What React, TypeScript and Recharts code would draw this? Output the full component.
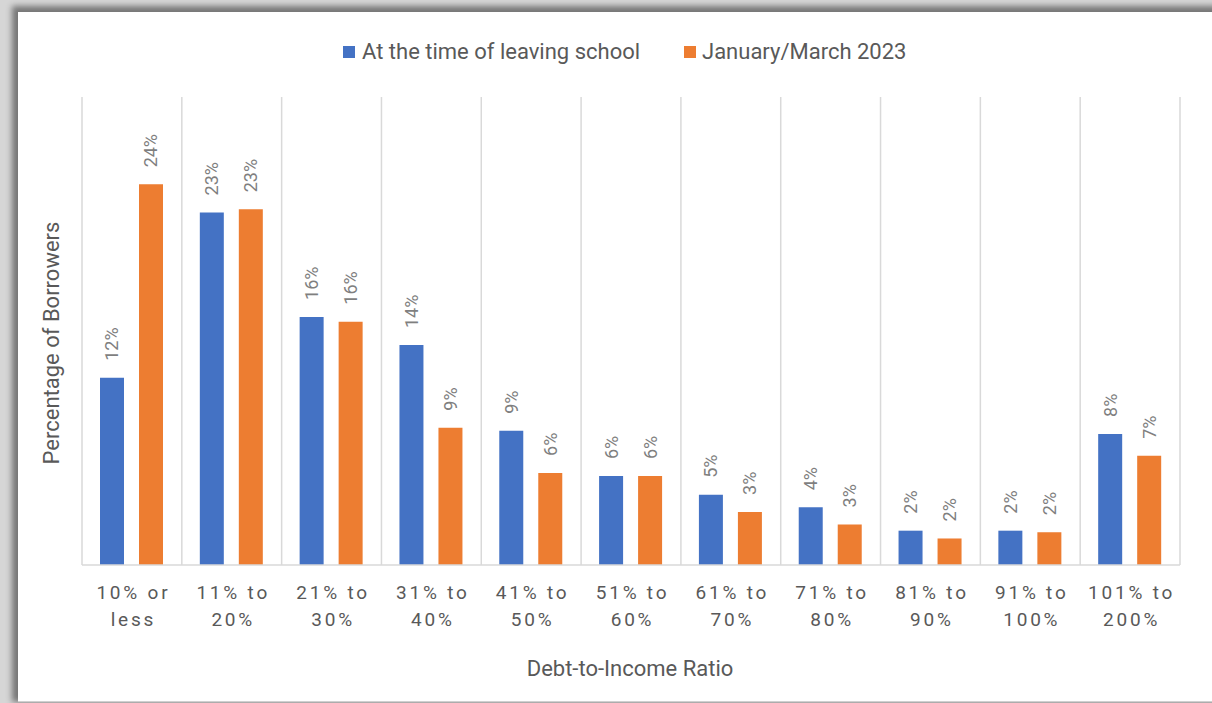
import { Bar, BarChart, CartesianGrid, LabelList, XAxis, YAxis } from "recharts";

const categories = [
  "10% or less",
  "11% to 20%",
  "21% to 30%",
  "31% to 40%",
  "41% to 50%",
  "51% to 60%",
  "61% to 70%",
  "71% to 80%",
  "81% to 90%",
  "91% to 100%",
  "101% to 200%",
];
const leavingSchool = [12.0, 22.6, 15.9, 14.1, 8.6, 5.7, 4.5, 3.7, 2.2, 2.2, 8.4];
const janMar2023 = [24.4, 22.8, 15.6, 8.8, 5.9, 5.7, 3.4, 2.6, 1.7, 2.1, 7.0];

const BLUE = "#4472C4";
const ORANGE = "#ED7D31";
const FONT = "Roboto, 'Noto Sans', sans-serif";

const data = categories.map((name, i) => ({
  name,
  school: leavingSchool[i],
  jan: janMar2023[i],
}));

// two-line category label, split at the last space
function CategoryTick({ x, y, payload }: any) {
  const s: string = payload.value;
  const cut = s.lastIndexOf(" ");
  const lines = [s.slice(0, cut), s.slice(cut + 1)];
  return (
    <g>
      {lines.map((l, i) => (
        <text
          key={i}
          x={x + 1.5}
          y={y + 34 + i * 27}
          textAnchor="middle"
          fontSize={19}
          letterSpacing={2.8}
          fill="#595959"
          fontFamily={FONT}
        >
          {l}
        </text>
      ))}
    </g>
  );
}

function ValueLabel({ x, y, width, value }: any) {
  const cx = x + width / 2;
  const ty = y - 17;
  return (
    <text
      x={cx}
      y={ty}
      transform={`rotate(-90, ${cx}, ${ty})`}
      textAnchor="start"
      dominantBaseline="central"
      fontSize={18}
      fill="#7f7f7f"
      fontFamily={FONT}
    >
      {Math.round(value)}%
    </text>
  );
}

export default function App() {
  return (
    <div
      style={{
        position: "absolute",
        left: 0,
        top: 0,
        width: 1212,
        height: 703,
        overflow: "hidden",
        background: "#d6d6d6",
        fontFamily: FONT,
      }}
    >
      <div
        style={{
          position: "absolute",
          left: 18,
          top: 12,
          width: 1230,
          height: 689,
          background: "#fff",
          boxShadow: "-3px -3px 6px 3px rgba(0,0,0,0.45)",
          borderBottom: "1px solid #d0d0d0",
        }}
      />
      <div style={{ position: "absolute", left: 0, top: 0 }}>
        <BarChart
          width={1212}
          height={703}
          data={data}
          margin={{ top: 97, right: 32, left: 82, bottom: 68 }}
          barGap={15}
          barSize={24}
        >
          <CartesianGrid
            horizontal={false}
            stroke="#d9d9d9"
            strokeWidth={1.5}
            verticalCoordinatesGenerator={({ offset }: any) =>
              categories
                .map((_, i) => offset.left + (i * offset.width) / categories.length)
                .concat(offset.left + offset.width)
            }
          />
          <XAxis
            dataKey="name"
            interval={0}
            height={70}
            tickLine={false}
            tickSize={0}
            tickMargin={0}
            axisLine={{ stroke: "#d9d9d9", strokeWidth: 1.5 }}
            tick={<CategoryTick />}
          />
          <YAxis hide domain={[0, 30]} />
          <Bar dataKey="school" fill={BLUE} isAnimationActive={false}>
            <LabelList dataKey="school" content={<ValueLabel />} />
          </Bar>
          <Bar dataKey="jan" fill={ORANGE} isAnimationActive={false}>
            <LabelList dataKey="jan" content={<ValueLabel />} />
          </Bar>
        </BarChart>
      </div>

      {/* legend */}
      <div style={{ position: "absolute", left: 343, top: 39, display: "flex", alignItems: "center", fontSize: 22, color: "#595959" }}>
        <span style={{ width: 12, height: 12, background: BLUE, marginRight: 7 }} />
        At the time of leaving school
      </div>
      <div style={{ position: "absolute", left: 684, top: 39, display: "flex", alignItems: "center", fontSize: 22, color: "#595959" }}>
        <span style={{ width: 12, height: 12, background: ORANGE, marginRight: 6 }} />
        January/March 2023
      </div>

      {/* axis titles */}
      <div
        style={{
          position: "absolute",
          left: 51,
          top: 343,
          transform: "translate(-50%, -50%) rotate(-90deg)",
          whiteSpace: "nowrap",
          fontSize: 22,
          color: "#595959",
        }}
      >
        Percentage of Borrowers
      </div>
      <div
        style={{
          position: "absolute",
          left: 630,
          top: 668,
          transform: "translate(-50%, -50%)",
          whiteSpace: "nowrap",
          fontSize: 22,
          color: "#595959",
        }}
      >
        Debt-to-Income Ratio
      </div>
    </div>
  );
}
